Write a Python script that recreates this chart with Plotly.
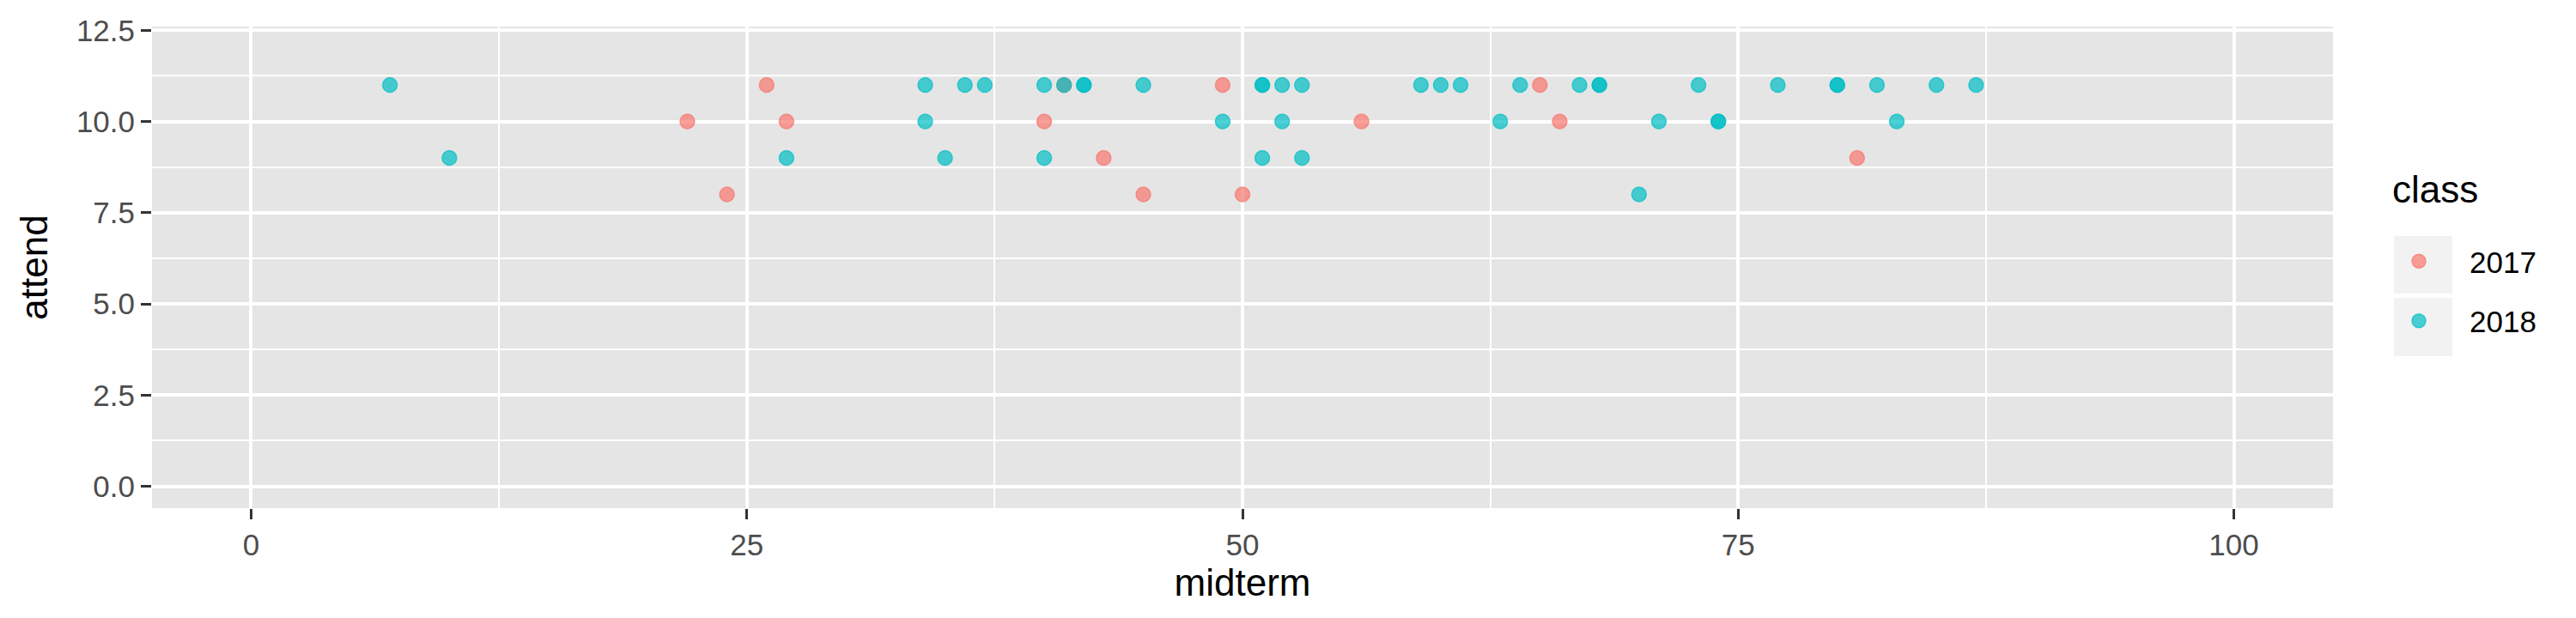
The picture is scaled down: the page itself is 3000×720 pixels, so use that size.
import plotly.graph_objects as go

# ---- data ----
classes = ["2017", "2018"]
mid_2017 = [22, 24, 26, 27, 40, 41, 43, 45, 49, 50, 56, 65, 66, 81]
att_2017 = [10, 8, 11, 10, 10, 11, 9, 8, 11, 8, 10, 11, 10, 9]
mid_2018 = [7, 10, 27, 34, 34, 35, 36, 37, 40, 40, 41, 42, 42, 45, 49, 51, 51, 51,
            52, 52, 53, 53, 59, 60, 61, 63, 64, 67, 68, 68, 70, 71, 73, 74, 74,
            77, 80, 80, 82, 83, 85, 87]
att_2018 = [11, 9, 9, 11, 10, 9, 11, 11, 11, 9, 11, 11, 11, 11, 10, 11, 11, 9,
            11, 10, 11, 9, 11, 11, 11, 10, 11, 11, 11, 11, 8, 10, 11, 10, 10,
            11, 11, 11, 11, 10, 11, 11]
x_ticks = [0, 25, 50, 75, 100]
y_ticks = [0, 2.5, 5, 7.5, 10, 12.5]
y_tick_text = ["0.0", "2.5", "5.0", "7.5", "10.0", "12.5"]

colors = {"2017": (248, 118, 109), "2018": (0, 191, 196)}
alpha = 0.7
FONT = "Liberation Sans, Arial, Helvetica, sans-serif"

W, H = 3000, 720
ML, MR, MT, MB = 169, 291, 23, 136
PW, PH = W - ML - MR, H - MT - MB


def px_x(px):
    return (px - ML) / PW


def px_y(py):
    return (H - MB - py) / PH


fig = go.Figure()
for cls, xs, ys in [("2017", mid_2017, att_2017), ("2018", mid_2018, att_2018)]:
    r, g, b = colors[cls]
    fig.add_trace(go.Scatter(
        x=xs, y=ys, mode="markers", name=cls, legendgroup=cls,
        marker=dict(size=17, color=f"rgba({r},{g},{b},{alpha})",
                    line=dict(width=1.5, color=f"rgba({r},{g},{b},{alpha})")),
    ))

axis_common = dict(
    showline=False, zeroline=False, showgrid=True, gridcolor="white", gridwidth=4,
    ticks="outside", ticklen=12, tickwidth=3, tickcolor="#333333", automargin=False,
    tickfont=dict(family=FONT, size=35, color="#4D4D4D"),
    minor=dict(showgrid=True, gridcolor="white", gridwidth=2, ticks=""),
)

# legend key backgrounds (ggplot-style grey boxes)
shapes = []
for (y0, y1) in [(267, 334), (339, 407)]:
    shapes.append(dict(type="rect", xref="paper", yref="paper",
                       x0=px_x(2780), x1=px_x(2848), y0=px_y(y1), y1=px_y(y0),
                       fillcolor="#F2F2F2", line=dict(width=0), layer="below"))

fig.update_layout(
    width=W, height=H,
    paper_bgcolor="white", plot_bgcolor="#E5E5E5",
    margin=dict(l=ML, r=MR, t=MT, b=MB, autoexpand=False),
    font=dict(family=FONT),
    xaxis=dict(range=[-5, 105], tickvals=x_ticks, ticktext=[str(v) for v in x_ticks],
               title=dict(text="midterm", font=dict(family=FONT, size=44, color="black"), standoff=8),
               **axis_common),
    yaxis=dict(range=[-0.6, 12.6], tickvals=y_ticks, ticktext=y_tick_text,
               title=dict(text="attend", font=dict(family=FONT, size=44, color="black"), standoff=19),
               **axis_common),
    legend=dict(
        font=dict(family=FONT, size=35, color="black"),
        x=px_x(2750), xanchor="left", xref="paper",
        y=px_y(331), yanchor="middle",
        bgcolor="rgba(0,0,0,0)", tracegroupgap=21, itemsizing="trace", itemwidth=108,
    ),
    shapes=shapes,
    annotations=[dict(text="class", xref="paper", yref="paper", x=px_x(2776), y=px_y(213),
                      xanchor="left", yanchor="middle", showarrow=False,
                      font=dict(family=FONT, size=44, color="black"))],
)
fig.update_xaxes(minor=dict(tick0=12.5, dtick=25))
fig.update_yaxes(minor=dict(tick0=1.25, dtick=2.5))

fig.write_html("out.html")
